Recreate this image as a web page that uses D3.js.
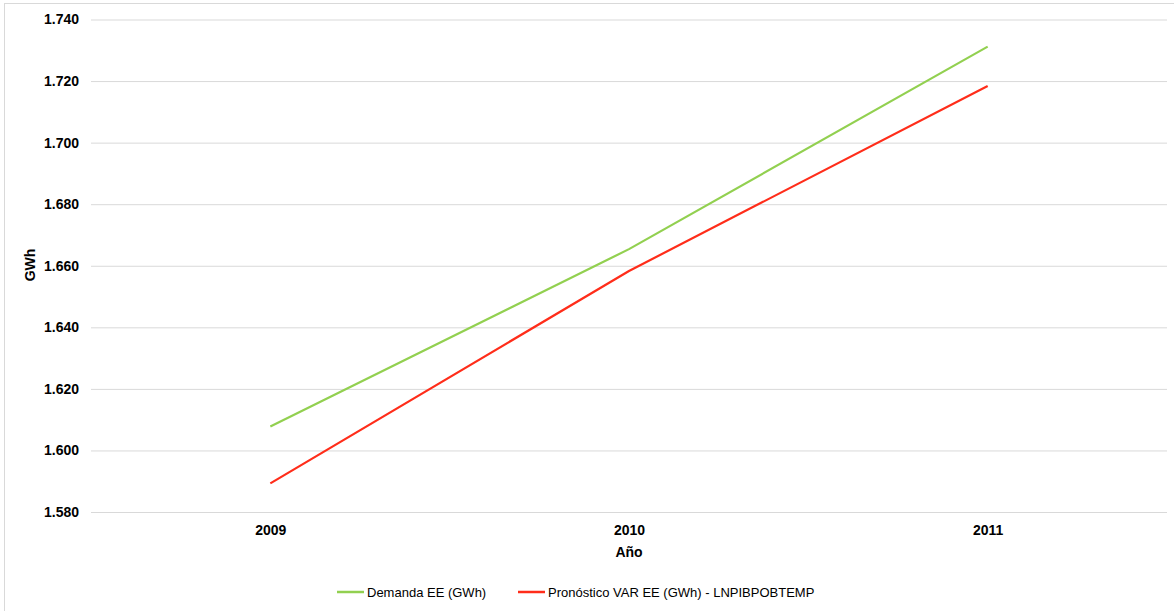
<!DOCTYPE html>
<html><head><meta charset="utf-8">
<script src="https://cdn.jsdelivr.net/npm/d3@7"></script>
<style>body{margin:0;background:#fff}svg{display:block}text{font-family:"Liberation Sans",Arial,sans-serif;fill:#000}</style>
</head><body><svg id="c" width="1174" height="611"></svg>
<script>
const years = ["2009", "2010", "2011"];
const demanda = [1.6078, 1.6654, 1.7312];
const pronostico = [1.5893, 1.6583, 1.7184];
const yTicks = [1.58, 1.60, 1.62, 1.64, 1.66, 1.68, 1.70, 1.72, 1.74];
const seriesNames = ["Demanda EE (GWh)", "Pronóstico VAR EE (GWh) - LNPIBPOBTEMP"];
const seriesColors = ["#92D050", "#FF2D1A"];

const svg = d3.select("#c");
svg.append("rect").attr("x",4.5).attr("y",3.5).attr("width",1200).attr("height",700)
  .attr("fill","#fff").attr("stroke","#d9d9d9");

const pLeft = 91, pRight = 1167, pTop = 19.5, pBottom = 512;
const x = d3.scalePoint().domain(years).range([pLeft, pRight]).padding(0.5);
const y = d3.scaleLinear().domain([1.58, 1.74]).range([pBottom, pTop]);

const gy = svg.append("g").attr("transform", `translate(${pLeft},0)`)
  .call(d3.axisLeft(y).tickValues(yTicks).tickSize(-(pRight-pLeft)).tickPadding(12).tickFormat(d3.format(".3f")));
gy.select(".domain").remove();
gy.selectAll(".tick line").attr("stroke","#d9d9d9").attr("stroke-width",1);
gy.selectAll(".tick text").attr("font-size",14).attr("font-weight","bold").attr("fill","#000")
  .attr("font-family","Liberation Sans, Arial, sans-serif");

const gx = svg.append("g").attr("transform", `translate(0,${pBottom})`)
  .call(d3.axisBottom(x).tickSize(0).tickPadding(13));
gx.select(".domain").remove();
gx.selectAll(".tick text").attr("font-size",14).attr("font-weight","bold").attr("fill","#000")
  .attr("font-family","Liberation Sans, Arial, sans-serif");

svg.append("text").attr("x", x("2010")).attr("y", 557).attr("text-anchor","middle")
  .attr("font-size",14).attr("font-weight","bold").text("Año");
svg.append("text").attr("transform","translate(35,265) rotate(-90)").attr("text-anchor","middle")
  .attr("font-size",14).attr("font-weight","bold").text("GWh");

const line = d3.line().x((d,i)=>x(years[i])).y(d=>y(d));
[demanda, pronostico].forEach((s,k)=>{
  svg.append("path").datum(s).attr("d", line).attr("fill","none")
    .attr("stroke", seriesColors[k]).attr("stroke-width", 2.2).attr("stroke-linejoin","round");
});

const legX = [337, 518];
seriesNames.forEach((n,k)=>{
  svg.append("line").attr("x1",legX[k]).attr("x2",legX[k]+27).attr("y1",592).attr("y2",592)
    .attr("stroke",seriesColors[k]).attr("stroke-width",2.5);
  svg.append("text").attr("x",legX[k]+30).attr("y",597).attr("font-size",13).text(n);
});
</script></body></html>
